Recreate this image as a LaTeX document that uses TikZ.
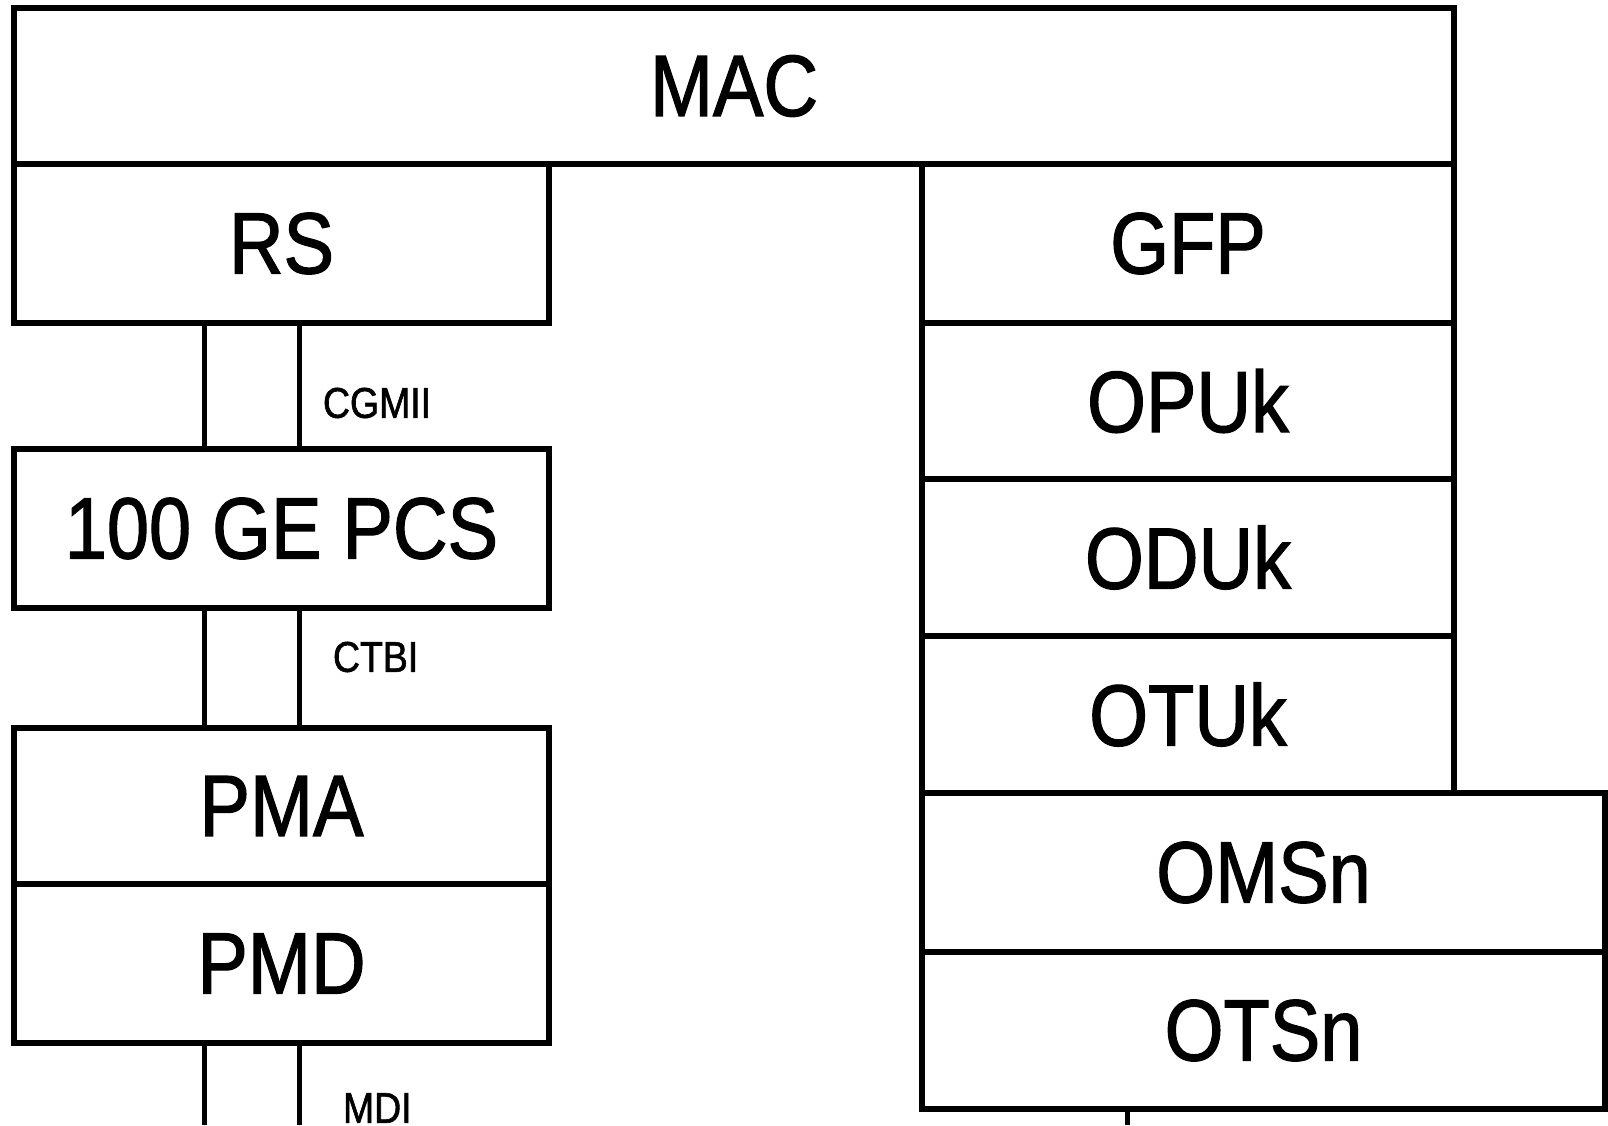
\documentclass[tikz,border=0pt]{standalone}
\usepackage{fontspec}
\newfontfamily\layerfont{Liberation Sans}[FakeStretch=0.87,FakeBold=1.4]
\begin{document}
\begin{tikzpicture}[x=1pt,y=-1pt,
  layer/.style={draw=black,line width=5.5pt,fill=white,rectangle,
    inner sep=0pt,outer sep=0pt,anchor=north west,
    font=\layerfont\fontsize{87}{90}\selectfont},
  iface/.style={inner sep=0pt,outer sep=0pt,anchor=west,
    font=\layerfont\fontsize{43}{46}\selectfont},
  link/.style={line width=5pt}]
\useasboundingbox (0,0) rectangle (1608,1125);

% Ethernet side
\node[layer,minimum width=1440pt,minimum height=156pt] (MAC) at (14,8) {MAC};
\node[layer,minimum width=535pt,minimum height=159pt] (RS) at (14,164) {RS};
\node[layer,minimum width=535pt,minimum height=159pt] (PCS) at (14,449) {100 GE PCS};
\node[layer,minimum width=535pt,minimum height=156pt] (PMA) at (14,728) {PMA};
\node[layer,minimum width=535pt,minimum height=159pt] (PMD) at (14,884) {PMD};

% OTN side
\node[layer,minimum width=532pt,minimum height=159pt] (GFP) at (922,164) {GFP};
\node[layer,minimum width=532pt,minimum height=156pt] (OPU) at (922,323) {OPUk};
\node[layer,minimum width=532pt,minimum height=157pt] (ODU) at (922,479) {ODUk};
\node[layer,minimum width=532pt,minimum height=157pt] (OTU) at (922,636) {OTUk};
\node[layer,minimum width=683pt,minimum height=159pt] (OMS) at (922,793) {OMSn};
\node[layer,minimum width=683pt,minimum height=157pt] (OTS) at (922,952) {OTSn};

% interfaces between the Ethernet sublayers
\draw[link] ([xshift=190pt]RS.south west) -- ([xshift=190pt]PCS.north west);
\draw[link] ([xshift=285pt]RS.south west) -- ([xshift=285pt]PCS.north west);
\draw[link] ([xshift=190pt]PCS.south west) -- ([xshift=190pt]PMA.north west);
\draw[link] ([xshift=285pt]PCS.south west) -- ([xshift=285pt]PMA.north west);
\coordinate (mdiA) at (204,1125);
\coordinate (mdiB) at (299,1125);
\draw[link] ([xshift=190pt]PMD.south west) -- (mdiA);
\draw[link] ([xshift=285pt]PMD.south west) -- (mdiB);
\coordinate (fibre) at (1127,1125);
\draw[link] (OTS.south west -| fibre) -- (fibre);

\node[iface] (cgmii) at (323,403) {CGMII};
\node[iface] (ctbi) at (333,657) {CTBI};
\node[iface] (mdi) at (343,1108) {MDI};
\end{tikzpicture}
\end{document}
